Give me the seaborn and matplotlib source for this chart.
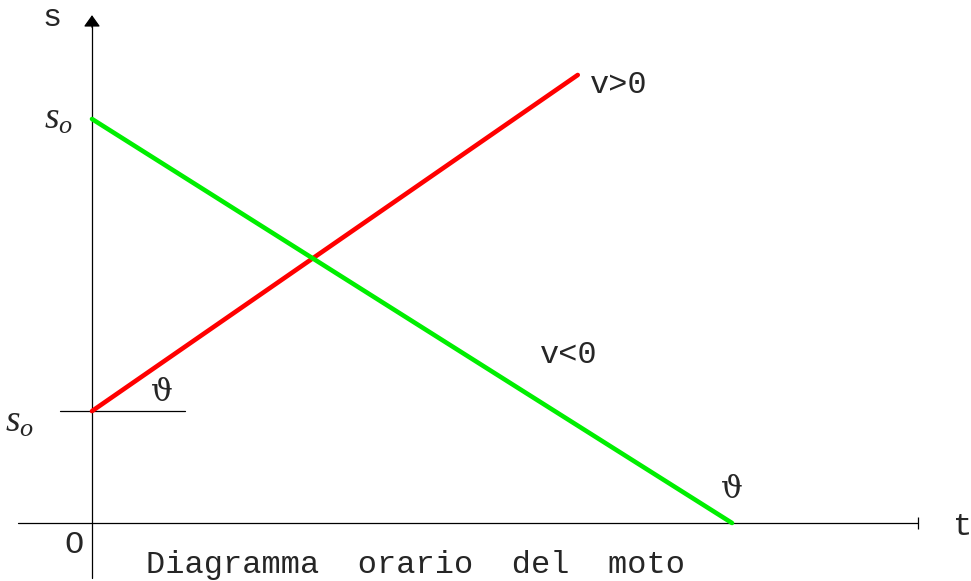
import numpy as np
import pandas as pd
import seaborn as sns
import matplotlib.pyplot as plt

# endpoints of the two motion lines (t, s)
red_t = [0.0, 7.59]
red_s = [2.77, 11.09]
green_t = [0.0, 10.0]
green_s = [10.0, 0.0]

# axis extents
t_axis = [-1.16, 12.9]
s_axis = [-1.36, 12.57]
s0_low = 2.77
s0_high = 10.0
hline_t = [-0.5, 1.45]

df = pd.concat([
    pd.DataFrame({"t": red_t, "s": red_s, "moto": "v>0"}),
    pd.DataFrame({"t": green_t, "s": green_s, "moto": "v<0"}),
], ignore_index=True)

sns.set_style("white")
plt.rcParams["mathtext.fontset"] = "custom"
plt.rcParams["mathtext.it"] = "Liberation Serif:italic"
plt.rcParams["mathtext.rm"] = "Liberation Serif"

fig = plt.figure(figsize=(9.71, 5.81), dpi=100)
ax = fig.add_axes([0, 0, 1, 1])
ax.set_xlim(-92 / 64, 879 / 64)
ax.set_ylim(-58 / 40.4, 523 / 40.4)
ax.axis("off")

# axes drawn by hand
ax.plot(t_axis, [0, 0], color="black", lw=0.9, marker="|", markevery=[1],
        markersize=9, markeredgewidth=0.9)
ax.plot([0, 0], [s_axis[0], s_axis[1] - 0.2], color="black", lw=0.9)
ax.annotate("", xy=(0, s_axis[1]), xytext=(0, s_axis[1] - 0.3),
            arrowprops=dict(arrowstyle="-|>,head_length=0.7,head_width=0.5",
                            color="black", lw=0.9, mutation_scale=10,
                            shrinkA=0, shrinkB=0))
ax.plot(hline_t, [s0_low, s0_low], color="black", lw=0.9)

sns.lineplot(data=df, x="t", y="s", hue="moto",
             palette={"v>0": "#ff0000", "v<0": "#00ee00"},
             linewidth=3.3, legend=False, ax=ax, sort=False)

mono = dict(family="Liberation Mono", fontsize=23)
serif = dict(family=["DejaVu Serif"], fontsize=22)

ax.text(-0.625, 12.5, "s", ha="center", va="center", **mono)
ax.text(13.6, -0.1, "t", ha="center", va="center", **mono)
ax.text(-0.28, -0.54, "O", ha="center", va="center", **mono)
ax.text(7.78, 10.84, "v>0", ha="left", va="center", **mono)
ax.text(7.0, 4.16, "v<0", ha="left", va="center", **mono)
ax.text(0.84, -1.04, "Diagramma  orario  del  moto", ha="left", va="center", **mono)

ax.text(-0.53, s0_high, r"$s_o$", ha="center", va="center", fontsize=27)
ax.text(-1.14, s0_low - 0.25, r"$s_o$", ha="center", va="center", fontsize=27)
ax.text(1.09, 3.24, "\u03d1", ha="center", va="center", **serif)
ax.text(10.0, 0.84, "\u03d1", ha="center", va="center", **serif)

plt.savefig("out.png", dpi=100)
